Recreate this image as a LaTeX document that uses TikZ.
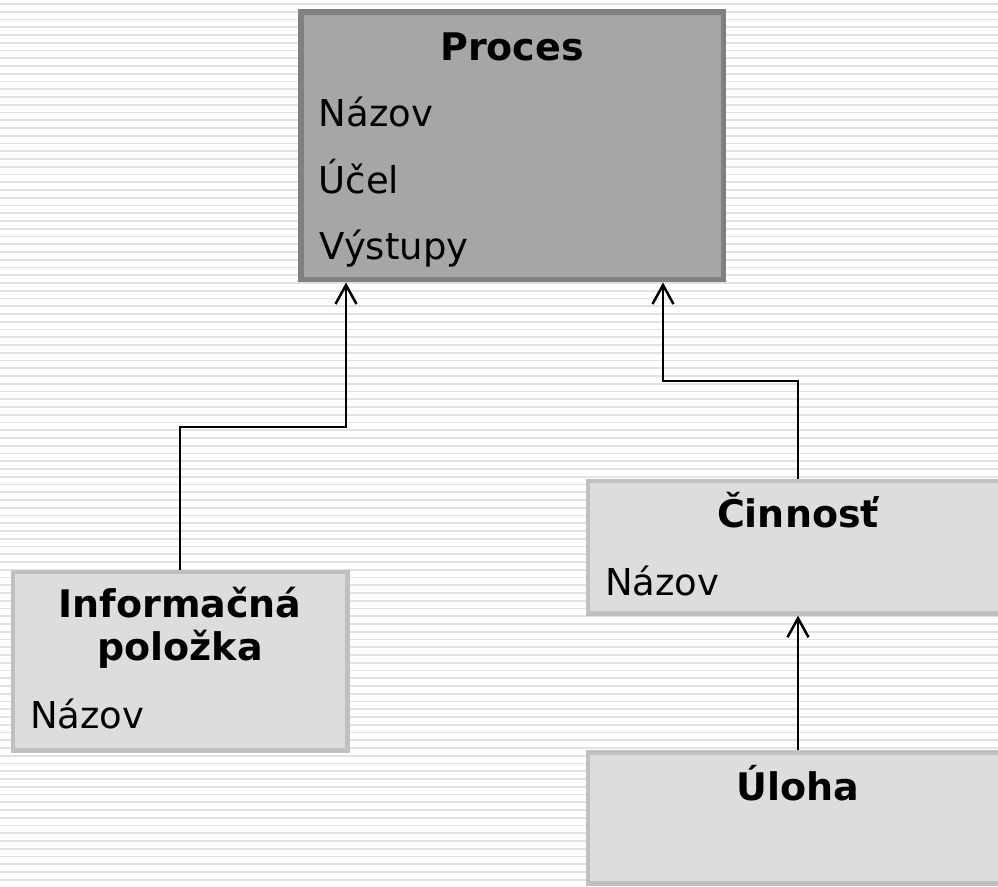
\documentclass[tikz,border=0pt]{standalone}
\usepackage{fontspec}
\setmainfont{DejaVu Sans}
\usetikzlibrary{arrows.meta}
\definecolor{stripecol}{RGB}{226,226,226}
\definecolor{procfill}{RGB}{166,166,166}
\definecolor{procdraw}{RGB}{128,128,128}
\definecolor{lightfill}{RGB}{221,221,221}
\definecolor{lightdraw}{RGB}{192,192,192}
\begin{document}
\begin{tikzpicture}[x=1pt,y=-1pt,
  stripe/.style={draw=stripecol,line width=1.6pt},
  procbox/.style={rectangle,draw=procdraw,fill=procfill,line width=5.5pt,inner sep=0pt},
  lightbox/.style={rectangle,draw=lightdraw,fill=lightfill,line width=4.3pt,inner sep=0pt},
  titletext/.style={font=\fontsize{38}{44}\selectfont\bfseries,inner sep=0pt,anchor=base},
  attrtext/.style={font=\fontsize{37}{44}\selectfont,inner sep=0pt,anchor=base west},
  conn/.style={draw=black,line width=2.5pt,-{Straight Barb[length=19pt,width=21pt]}}
]
\useasboundingbox (0,0) rectangle (998,886);
\clip (0,0) rectangle (998,886);
\fill[white] (0,0) rectangle (998,886);
\foreach \k in {0,...,114} {
  \draw[stripe] (0,{4+7.75*\k}) -- (998,{4+7.75*\k});
}
% boxes
\node[procbox,minimum width=422.5pt,minimum height=267.7pt] (proc) at (512.25,145.85) {};
\node[lightbox,minimum width=334.7pt,minimum height=178.8pt] (info) at (180.15,661.1) {};
\node[lightbox,minimum width=420.6pt,minimum height=132.5pt] (cinn) at (798,547.25) {};
\node[lightbox,minimum width=420.6pt,minimum height=131pt] (uloha) at (798,818) {};
% texts
\node[titletext] (tproc) at (512,60) {Proces};
\node[attrtext] (pnaz) at (318.5,126) {Názov};
\node[attrtext] (pucel) at (318.5,193) {Účel};
\node[attrtext] (pvys) at (319.5,259.5) {Výstupy};
\node[titletext] (tinfo1) at (180,617) {Informačná};
\node[titletext] (tinfo2) at (180,660) {položka};
\node[attrtext] (inaz) at (30,728.5) {Názov};
\node[titletext] (tcinn) at (798,527) {Činnosť};
\node[attrtext] (cnaz) at (605,595) {Názov};
\node[titletext] (tuloha) at (798,800.5) {Úloha};
% connectors
\coordinate (j1) at (346,427);
\coordinate (j2) at (663,381);
\draw[conn] (info.north) |- (j1) -- (proc.south -| j1);
\draw[conn] (cinn.north) |- (j2) -- (proc.south -| j2);
\draw[conn] (uloha.north) -- (cinn.south);
\end{tikzpicture}
\end{document}
